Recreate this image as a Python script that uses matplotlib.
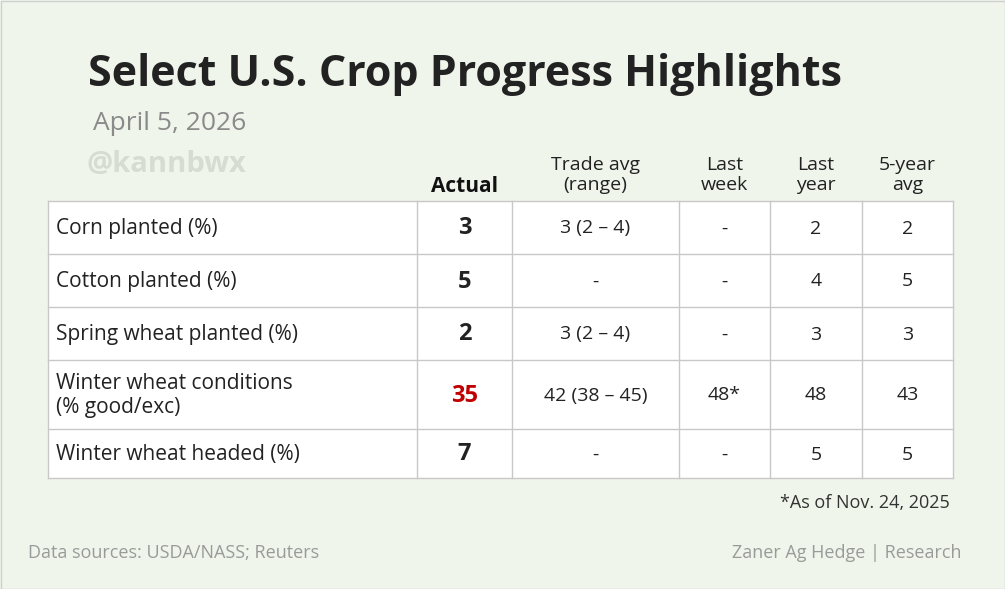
import matplotlib
matplotlib.use("Agg")
import matplotlib.pyplot as plt
from matplotlib.patches import Rectangle

plt.rcParams["font.family"] = ["Open Sans", "DejaVu Sans"]

rows = ["Corn planted (%)", "Cotton planted (%)", "Spring wheat planted (%)",
        "Winter wheat conditions\n(% good/exc)", "Winter wheat headed (%)"]
actual = ["3", "5", "2", "35", "7"]
trade = ["3 (2 – 4)", "-", "3 (2 – 4)", "42 (38 – 45)", "-"]
last_week = ["-", "-", "-", "48*", "-"]
last_year = ["2", "4", "3", "48", "5"]
five_year = ["2", "5", "3", "43", "5"]
headers = ["Actual", "Trade avg\n(range)", "Last\nweek", "Last\nyear", "5-year\navg"]

col_edges = [48, 417, 512, 679, 770, 862, 953]
row_edges = [201, 254, 307, 360, 429, 478]
grid = "#c8c8c8"

fig = plt.figure(figsize=(10.05, 5.89), dpi=100)
fig.patch.set_facecolor("#eff5eb")
ax = fig.add_axes([0, 0, 1, 1])
ax.set_xlim(0, 1005)
ax.set_ylim(589, 0)
ax.axis("off")
ax.add_patch(Rectangle((0.5, 0.5), 1004, 588, fill=False, ec="#cfcfcf", lw=1))

ax.text(88, 75, "Select U.S. Crop Progress Highlights", fontsize=31, fontweight="bold",
        color="#222222", va="center")
ax.text(93, 124, "April 5, 2026", fontsize=19, color="#8a8a8a", va="center")
ax.text(86, 164, "@kannbwx", fontsize=21, fontweight="bold", color="#d5dcd2", va="center")

ax.add_patch(Rectangle((col_edges[0], row_edges[0]), col_edges[-1] - col_edges[0],
                       row_edges[-1] - row_edges[0], fc="white", ec="none"))
for y in row_edges:
    ax.plot([col_edges[0], col_edges[-1]], [y, y], color=grid, lw=1)
for x in col_edges:
    ax.plot([x, x], [row_edges[0], row_edges[-1]], color=grid, lw=1)

for j, h in enumerate(headers):
    cx = (col_edges[j + 1] + col_edges[j + 2]) / 2
    if j == 0:
        ax.text(cx, 186, h, fontsize=15, fontweight="bold", color="#111111", ha="center", va="center")
    else:
        ax.text(cx, 175, h, fontsize=14, color="#222222", ha="center", va="center", linespacing=1.1)

for i, name in enumerate(rows):
    cy = (row_edges[i] + row_edges[i + 1]) / 2 + 1
    ax.text(56, cy, name, fontsize=15, color="#222222", va="center", linespacing=1.15)
    color = "#c00000" if actual[i] == "35" else "#222222"
    ax.text((col_edges[1] + col_edges[2]) / 2, cy, actual[i], fontsize=17, fontweight="bold",
            color=color, ha="center", va="center")
    for j, vals in enumerate([trade, last_week, last_year, five_year]):
        cx = (col_edges[j + 2] + col_edges[j + 3]) / 2
        ax.text(cx, cy, vals[i], fontsize=14, color="#222222", ha="center", va="center")

ax.text(950, 503, "*As of Nov. 24, 2025", fontsize=13, color="#333333", ha="right", va="center")
ax.text(28, 553, "Data sources: USDA/NASS; Reuters", fontsize=13, color="#9a9a9a", va="center")
ax.text(962, 553, "Zaner Ag Hedge | Research", fontsize=13, color="#9a9a9a", ha="right", va="center")

fig.savefig("out.png", dpi=100, facecolor=fig.get_facecolor())
